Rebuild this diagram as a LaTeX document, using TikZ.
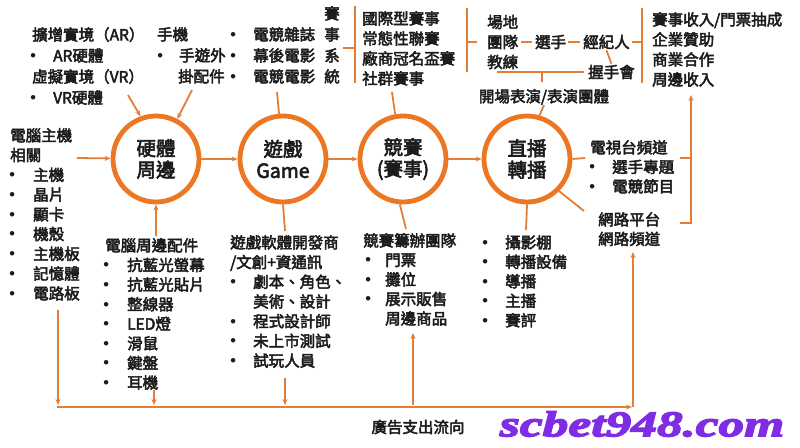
\documentclass[tikz,border=0pt]{standalone}
\usepackage{fontspec}
\setmainfont{Noto Sans CJK TC}[FakeBold=3]
\newfontfamily\wmfont{Liberation Serif}[FakeBold=4, FakeStretch=1.43]
\newfontfamily\bulfont{DejaVu Sans}
\usetikzlibrary{arrows.meta}
\definecolor{orn}{RGB}{236,118,34}
\definecolor{lnc}{RGB}{226,126,54}
\definecolor{txt}{RGB}{28,28,28}
\definecolor{wmpurple}{RGB}{128,44,228}
\newcommand{\mybul}[1][20pt]{\makebox[#1][l]{\hspace*{-4.6pt}{\bulfont •}}}
\tikzset{
  blk/.style={anchor=north west, align=left, inner sep=0pt, text=txt, font=\fontsize{15.5}{#1}\selectfont},
  blk/.default=19.6,
  lbl/.style={anchor=west, inner sep=0pt, text=txt, font=\fontsize{15.5}{19}\selectfont},
  hub/.style={circle, draw=orn, line width=4.8pt, minimum size=86pt, inner sep=0pt, align=center, text=txt, font=\fontsize{19.5}{21.5}\selectfont},
  ln/.style={draw=lnc, line width=1.8pt},
  arr/.style={ln, -{Stealth[length=6pt,width=5pt]}},
}
\begin{document}
\begin{tikzpicture}[x=1pt,y=-1pt]
\useasboundingbox (0,0) rectangle (800,447);
\fill[white] (0,0) rectangle (800,447);

% ---------- hubs ----------
\node[hub] (c1) at (156,159) {硬體\\周邊};
\node[hub] (c2) at (283,159) {遊戲\\Game};
\node[hub] (c3) at (403,159) {競賽\\(賽事)};
\node[hub] (c4) at (527,159) {直播\\轉播};

% ---------- top left ----------
\node[blk=21] (ar) at (32,27) {擴增實境（AR）\\\hspace*{1pt}\mybul AR硬體\\虛擬實境（VR）\\\hspace*{1pt}\mybul VR硬體};
\node[blk=21] (phone) at (157,27) {手機\\\hspace*{3pt}\mybul[19pt]手遊外\\\hspace*{21pt}掛配件};
\node[blk=21] (media) at (230,27) {\hspace*{3pt}\mybul 電競雜誌\\\hspace*{3pt}\mybul 幕後電影\\\hspace*{3pt}\mybul 電競電影};
\node[anchor=north, align=center, inner sep=0pt, text=txt, font=\fontsize{15.5}{21}\selectfont] (sys) at (332,6) {賽\\事\\系\\統};

\coordinate (b1t) at (355,6);
\coordinate (b1b) at (355,83);
\coordinate (b1m) at (355,48);
\coordinate (b1l) at (343,48);
\draw[ln] (b1t) -- (b1b);
\draw[ln] (b1l) -- (b1m);

\node[blk=20] (league) at (362,11) {國際型賽事\\常態性聯賽\\廠商冠名盃賽\\社群賽事};

\coordinate (b2t) at (467,8);
\coordinate (b2b) at (467,72);
\coordinate (b2m) at (467,42);
\coordinate (b2r) at (477,42);
\draw[ln] (b2t) -- (b2b);
\draw[ln] (b2m) -- (b2r);

\node[lbl] (venue) at (487,22) {場地};
\node[lbl] (team) at (487,42) {團隊};
\node[lbl] (coach) at (487,62) {教練};
\node[lbl] (player) at (535,42) {選手};
\node[lbl] (agent) at (583,42) {經紀人};
\node[lbl] (meet) at (588,72) {握手會};
\node[anchor=center, inner sep=0pt, text=txt, font=\fontsize{15.5}{19}\selectfont] (show) at (544,97) {開場表演/表演團體};

\draw[ln] ([xshift=3pt]team.east) -- ([xshift=-3pt]player.west);
\draw[ln] ([xshift=2pt]player.east) -- ([xshift=-3pt]agent.west);
\coordinate (b3t) at (642,8);
\coordinate (b3b) at (642,83);
\coordinate (b3m) at (642,42);
\draw[ln] (b3t) -- (b3b);
\draw[ln] ([xshift=2pt]agent.east) -- (b3m);
\draw[ln] ([yshift=-1pt]agent.south) -- ([yshift=1pt]meet.north);
\coordinate (hl) at (497,72);
\coordinate (hlm) at (542,72);
\coordinate (hlb) at (542,82);
\draw[ln] (hl) -- ([xshift=-4pt]meet.west);
\draw[ln] (hlm) -- (hlb);
\draw[ln] (show.south) -- (c4.74);

\node[blk=20] (rev) at (652,12) {賽事收入/門票抽成\\企業贊助\\商業合作\\周邊收入};

% ---------- left ----------
\node[blk=19.75] (pc) at (10,128) {電腦主機\\相關\\\hspace*{2pt}\mybul[21pt]主機\\\hspace*{2pt}\mybul[21pt]晶片\\\hspace*{2pt}\mybul[21pt]顯卡\\\hspace*{2pt}\mybul[21pt]機殼\\\hspace*{2pt}\mybul[21pt]主機板\\\hspace*{2pt}\mybul[21pt]記憶體\\\hspace*{2pt}\mybul[21pt]電路板};
\coordinate (pcr) at (77,158);
\draw[arr] (pcr) -- (c1);

% ---------- bottom blocks ----------
\node[blk=19.6] (acc) at (105,238) {電腦周邊配件\\\hspace*{1pt}\mybul[21pt]抗藍光螢幕\\\hspace*{1pt}\mybul[21pt]抗藍光貼片\\\hspace*{1pt}\mybul[21pt]整線器\\\hspace*{1pt}\mybul[21pt]LED燈\\\hspace*{1pt}\mybul[21pt]滑鼠\\\hspace*{1pt}\mybul[21pt]鍵盤\\\hspace*{1pt}\mybul[21pt]耳機};
\node[blk=19.7] (dev) at (230,235) {遊戲軟體開發商\\/文創+資通訊\\\hspace*{3pt}\mybul 劇本、角色、\\\hspace*{23pt}美術、設計\\\hspace*{3pt}\mybul 程式設計師\\\hspace*{3pt}\mybul 未上市測試\\\hspace*{3pt}\mybul 試玩人員};
\node[blk=19.5] (org) at (363,233) {競賽籌辦團隊\\\hspace*{5pt}\mybul[17pt]門票\\\hspace*{5pt}\mybul[17pt]攤位\\\hspace*{5pt}\mybul[17pt]展示販售\\\hspace*{22pt}周邊商品};
\node[blk=19.5] (crew) at (483,235) {\hspace*{2pt}\mybul 攝影棚\\\hspace*{2pt}\mybul 轉播設備\\\hspace*{2pt}\mybul 導播\\\hspace*{2pt}\mybul 主播\\\hspace*{2pt}\mybul 賽評};
\node[blk=19.5] (tv) at (590,140) {電視台頻道\\\hspace*{2pt}\mybul 選手專題\\\hspace*{2pt}\mybul 電競節目};
\node[blk=19.5] (net) at (598,212) {網路平台\\網路頻道};

% ---------- connectors around hubs ----------
\coordinate (t1) at (128,95);
\coordinate (t2) at (192,90);
\coordinate (t3) at (277,92);
\coordinate (t4) at (392,92);
\draw[arr] (t1) -- (c1.110);
\draw[arr] (t2) -- (c1.62);
\draw[ln] (t3) -- (c2.95);
\draw[ln] (t4) -- (c3.100);

\draw[arr] (c1) -- (c2);
\draw[arr] (c2) -- (c3);
\draw[arr] (c3) -- (c4);

\coordinate (accup) at (156,236);
\draw[arr] (accup) -- (c1.south);
\coordinate (c2d) at (285,231);
\draw[ln] (c2.south) -- (c2d);
\coordinate (c3d) at (406,229);
\draw[ln] (c3.-94) -- (c3d);
\coordinate (c4d) at (526,230);
\draw[ln] (c4.south) -- (c4d);

\coordinate (tvl) at (585,158);
\draw[ln] (c4.east) -- (tvl);
\coordinate (netl) at (584,211);
\draw[ln] (c4.-45) -- (netl);

% right bracket
\coordinate (rb1) at (680,158);
\coordinate (rb2) at (691,158);
\coordinate (rb3) at (680,223);
\coordinate (rb4) at (691,223);
\coordinate (rbt) at (691,95);
\draw[ln] (rb1) -- (rb2);
\draw[arr] (rb3) -- (rb4) -- (rbt);

% ---------- bottom flow ----------
\coordinate (pcd) at (58,310);
\coordinate (pcdb) at (58,405);
\coordinate (bL) at (57,407);
\coordinate (bR) at (632,407);
\coordinate (bV) at (633,407);
\coordinate (netb) at (633,252);
\coordinate (ad1) at (154,390);
\coordinate (ad1b) at (154,405);
\coordinate (ad2) at (285,378);
\coordinate (ad2b) at (285,405);
\coordinate (ad3) at (413,405);
\coordinate (ad3t) at (413,333);
\draw[arr] (pcd) -- (pcdb);
\draw[arr] (bL) -- (bR);
\draw[arr] (bV) -- (netb);
\draw[arr] (ad1) -- (ad1b);
\draw[arr] (ad2) -- (ad2b);
\draw[arr] (ad3) -- (ad3t);

\node[inner sep=0pt, text=txt, font=\fontsize{15.5}{19}\selectfont] (adv) at (418,427) {廣告支出流向};

% ---------- watermark text ----------
\node[inner sep=1pt, text=wmpurple, font=\wmfont\fontsize{36}{38}\selectfont\bfseries\itshape] (wm) at (642,424) {scbet948.com};
\end{tikzpicture}
\end{document}
